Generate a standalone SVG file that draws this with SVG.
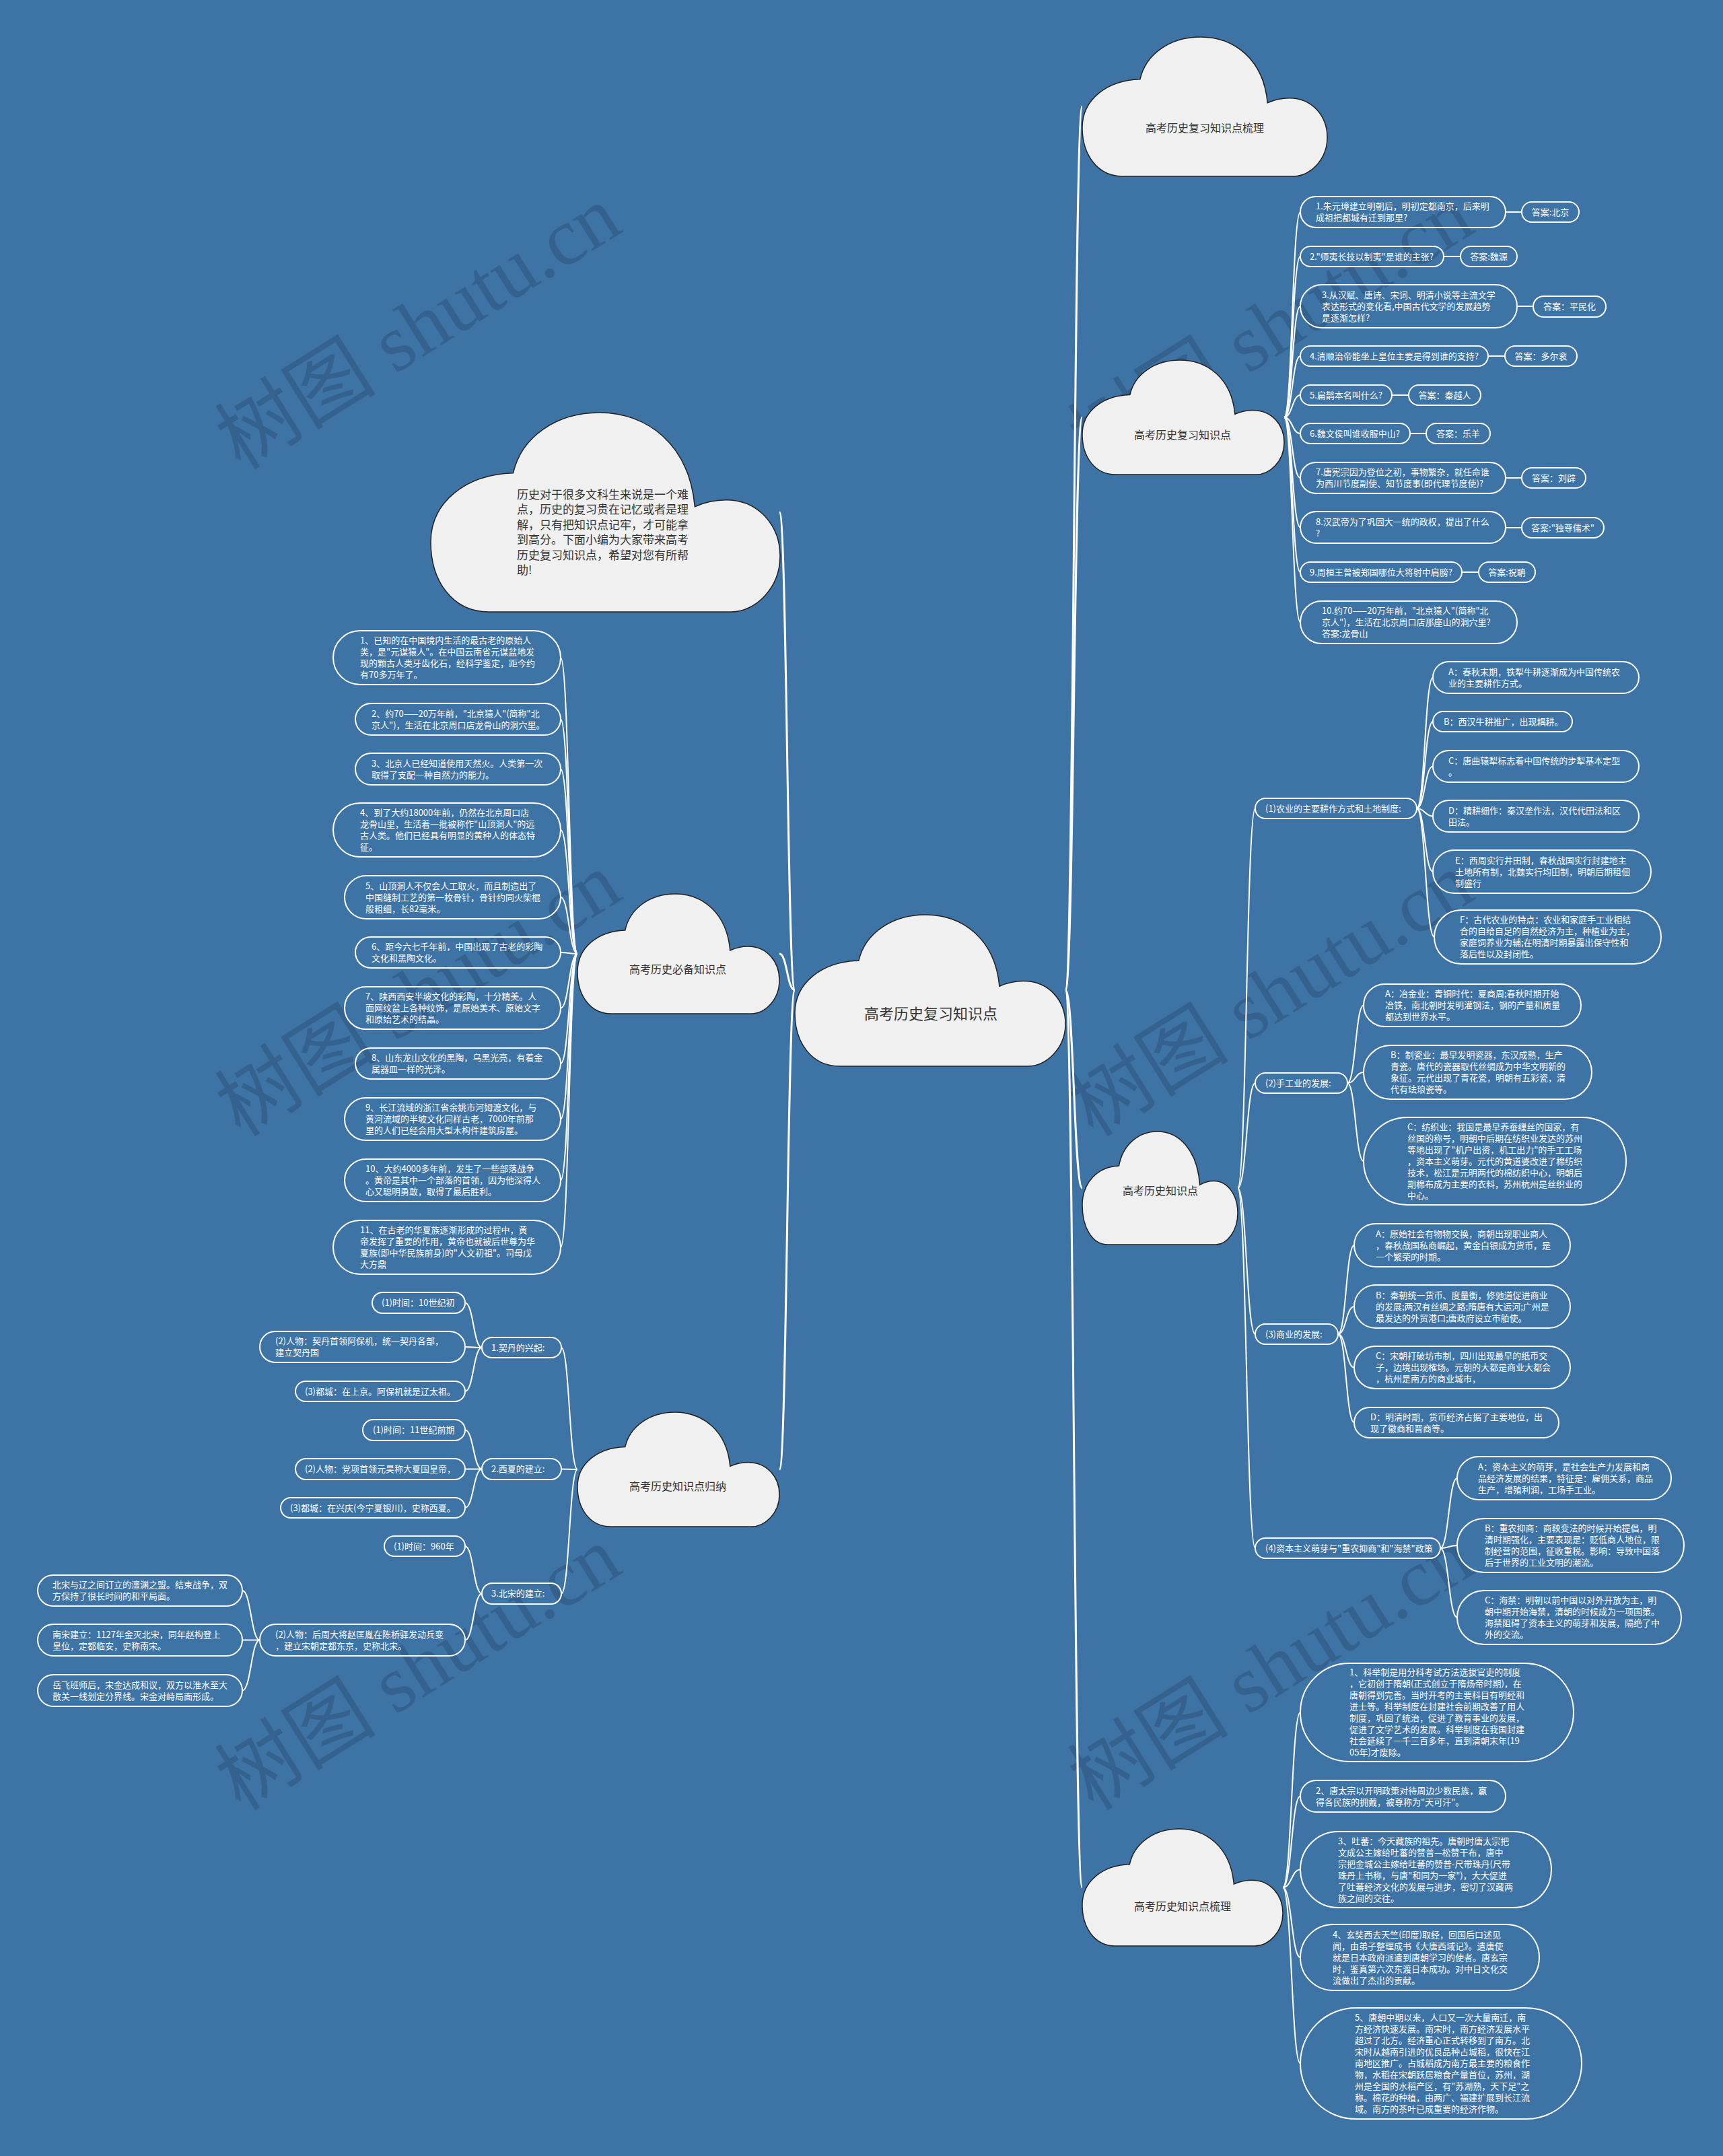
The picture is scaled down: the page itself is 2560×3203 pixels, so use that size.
<svg xmlns="http://www.w3.org/2000/svg" xmlns:xlink="http://www.w3.org/1999/xlink" width="2560" height="3203" viewBox="0 0 2560 3203">
<style>
.bg{fill:#3e73a5}
.pill{fill:none;stroke:#fff;stroke-width:2}
.t{font-family:"Noto Sans CJK SC","Noto Sans",sans-serif;font-size:13px;fill:#fff}
.ct{font-family:"Noto Sans CJK SC","Noto Sans",sans-serif;font-size:16px;fill:#333;text-anchor:middle}
.it{font-family:"Noto Sans CJK SC","Noto Sans",sans-serif;font-size:17px;fill:#333}
.cl{fill:#f0f0f0;stroke:#222;stroke-width:1.5}
.ln{fill:none;stroke:#fff;stroke-width:2}
.lm{fill:none;stroke:#fff;stroke-width:3}
.mid{text-anchor:middle}
.wm{font-family:"Liberation Serif","Noto Sans CJK SC",serif;font-size:120px;fill:#1a2f4a;opacity:0.25;text-anchor:middle}
</style>
<defs>
<path id="cloud" vector-effect="non-scaling-stroke" d="M16.6,100 C6,100 0,84 0,65 C0,45 10,31 23.6,30.3 C26,12 36,0 48.3,0 C62,0 74,16 75.6,47.2 C79,44.5 82,43.8 84.5,43.8 C94,43.8 100,57 100,72 C100,88 93,100 86,100 Z"/>
</defs>
<rect class="bg" x="0" y="0" width="2560" height="3203"/>
<g id="watermarks">
<text class="wm" transform="translate(643,521) rotate(-32)">树图 shutu.cn</text>
<text class="wm" transform="translate(643,1512) rotate(-32)">树图 shutu.cn</text>
<text class="wm" transform="translate(643,2513) rotate(-32)">树图 shutu.cn</text>
<text class="wm" transform="translate(1910,521) rotate(-32)">树图 shutu.cn</text>
<text class="wm" transform="translate(1910,1512) rotate(-32)">树图 shutu.cn</text>
<text class="wm" transform="translate(1910,2513) rotate(-32)">树图 shutu.cn</text>
</g>
<g id="connectors">
<path class="lm" d="M1583,1471 C1595.5,1471 1595.5,158 1608,158"/>
<path class="lm" d="M1583,1471 C1595.5,1471 1595.5,620 1608,620"/>
<path class="lm" d="M1583,1471 C1595.5,1471 1595.5,1765 1608,1765"/>
<path class="lm" d="M1583,1471 C1595.5,1471 1595.5,2804 1608,2804"/>
<path class="lm" d="M1181,1471 C1169.5,1471 1169.5,761 1158,761"/>
<path class="lm" d="M1181,1471 C1169.5,1471 1169.5,1417 1158,1417"/>
<path class="lm" d="M1181,1471 C1169.5,1471 1169.5,2183 1158,2183"/>
<path class="ln" d="M1908,620 C1920,620 1920,315 1932,315"/>
<path class="ln" d="M1908,620 C1920,620 1920,381 1932,381"/>
<path class="ln" d="M1908,620 C1920,620 1920,455 1932,455"/>
<path class="ln" d="M1908,620 C1920,620 1920,529 1932,529"/>
<path class="ln" d="M1908,620 C1920,620 1920,587 1932,587"/>
<path class="ln" d="M1908,620 C1920,620 1920,644 1932,644"/>
<path class="ln" d="M1908,620 C1920,620 1920,710 1932,710"/>
<path class="ln" d="M1908,620 C1920,620 1920,783.5 1932,783.5"/>
<path class="ln" d="M1908,620 C1920,620 1920,850 1932,850"/>
<path class="ln" d="M1908,620 C1920,620 1920,924.5 1932,924.5"/>
<path class="ln" d="M2237,315 L2261,315"/>
<path class="ln" d="M2145,381 L2170,381"/>
<path class="ln" d="M2254,455 L2278,455"/>
<path class="ln" d="M2211,529 L2236,529"/>
<path class="ln" d="M2068,587 L2093,587"/>
<path class="ln" d="M2095,644 L2119,644"/>
<path class="ln" d="M2237,710 L2261,710"/>
<path class="ln" d="M2237,784 L2261,784"/>
<path class="ln" d="M2172,850 L2197,850"/>
<path class="ln" d="M1839,1765 C1852,1765 1852,1201 1865,1201"/>
<path class="ln" d="M1839,1765 C1852,1765 1852,1609 1865,1609"/>
<path class="ln" d="M1839,1765 C1852,1765 1852,1982 1865,1982"/>
<path class="ln" d="M1839,1765 C1852,1765 1852,2300 1865,2300"/>
<path class="ln" d="M2105,1201 C2117,1201 2117,1006.5 2129,1006.5"/>
<path class="ln" d="M2105,1201 C2117,1201 2117,1072 2129,1072"/>
<path class="ln" d="M2105,1201 C2117,1201 2117,1138.5 2129,1138.5"/>
<path class="ln" d="M2105,1201 C2117,1201 2117,1212.5 2129,1212.5"/>
<path class="ln" d="M2105,1201 C2117,1201 2117,1295 2129,1295"/>
<path class="ln" d="M2105,1201 C2118,1201 2118,1392 2131,1392"/>
<path class="ln" d="M2002,1609 C2014,1609 2014,1493.5 2026,1493.5"/>
<path class="ln" d="M2002,1609 C2014,1609 2014,1593 2026,1593"/>
<path class="ln" d="M2002,1609 C2014,1609 2014,1725 2026,1725"/>
<path class="ln" d="M1988,1982 C2000,1982 2000,1850 2012,1850"/>
<path class="ln" d="M1988,1982 C2000,1982 2000,1941 2012,1941"/>
<path class="ln" d="M1988,1982 C2000,1982 2000,2031.5 2012,2031.5"/>
<path class="ln" d="M1988,1982 C2000,1982 2000,2113.5 2012,2113.5"/>
<path class="ln" d="M2140,2300 C2152.5,2300 2152.5,2196 2165,2196"/>
<path class="ln" d="M2140,2300 C2152.5,2300 2152.5,2296 2165,2296"/>
<path class="ln" d="M2140,2300 C2152.5,2300 2152.5,2403 2165,2403"/>
<path class="ln" d="M1906,2804 C1919,2804 1919,2544 1932,2544"/>
<path class="ln" d="M1906,2804 C1919,2804 1919,2668.5 1932,2668.5"/>
<path class="ln" d="M1906,2804 C1919,2804 1919,2777.5 1932,2777.5"/>
<path class="ln" d="M1906,2804 C1919,2804 1919,2908 1932,2908"/>
<path class="ln" d="M1906,2804 C1919,2804 1919,3065.5 1932,3065.5"/>
<path class="ln" d="M858,1417 C845.5,1417 845.5,977 833,977"/>
<path class="ln" d="M858,1417 C845.5,1417 845.5,1068.5 833,1068.5"/>
<path class="ln" d="M858,1417 C845.5,1417 845.5,1142.5 833,1142.5"/>
<path class="ln" d="M858,1417 C845.5,1417 845.5,1233 833,1233"/>
<path class="ln" d="M858,1417 C845.5,1417 845.5,1333 833,1333"/>
<path class="ln" d="M858,1417 C845.5,1417 845.5,1415 833,1415"/>
<path class="ln" d="M858,1417 C845.5,1417 845.5,1497.5 833,1497.5"/>
<path class="ln" d="M858,1417 C845.5,1417 845.5,1580 833,1580"/>
<path class="ln" d="M858,1417 C845.5,1417 845.5,1662.5 833,1662.5"/>
<path class="ln" d="M858,1417 C845.5,1417 845.5,1753.5 833,1753.5"/>
<path class="ln" d="M858,1417 C845.5,1417 845.5,1853 833,1853"/>
<path class="ln" d="M858,2183 C846,2183 846,2002 834,2002"/>
<path class="ln" d="M858,2183 C846,2183 846,2182.5 834,2182.5"/>
<path class="ln" d="M858,2183 C846,2183 846,2367.5 834,2367.5"/>
<path class="ln" d="M716,2002 C703.5,2002 703.5,1935.5 691,1935.5"/>
<path class="ln" d="M716,2002 C703.5,2002 703.5,2001 691,2001"/>
<path class="ln" d="M716,2002 C703.5,2002 703.5,2067 691,2067"/>
<path class="ln" d="M716,2182.5 C703.5,2182.5 703.5,2124.5 691,2124.5"/>
<path class="ln" d="M716,2182.5 C703.5,2182.5 703.5,2182.5 691,2182.5"/>
<path class="ln" d="M716,2182.5 C703.5,2182.5 703.5,2240 691,2240"/>
<path class="ln" d="M716,2367.5 C703.5,2367.5 703.5,2297 691,2297"/>
<path class="ln" d="M716,2367.5 C703.5,2367.5 703.5,2436.5 691,2436.5"/>
<path class="ln" d="M386,2436.5 C373,2436.5 373,2363 360,2363"/>
<path class="ln" d="M386,2436.5 C373,2436.5 373,2436.5 360,2436.5"/>
<path class="ln" d="M386,2436.5 C373,2436.5 373,2511.5 360,2511.5"/>
</g>
<g id="center">
<use href="#cloud" class="cl" transform="translate(1181,1359) scale(4.02,2.25)"/>
<text class="ct" x="1383" y="1514" style="font-size:22px">高考历史复习知识点</text>
</g>
<g id="cloud-shuli">
<use href="#cloud" class="cl" transform="translate(1608,55) scale(3.64,2.07)"/>
<text class="ct" x="1790" y="196">高考历史复习知识点梳理</text>
</g>
<g id="cloud-questions">
<use href="#cloud" class="cl" transform="translate(1608,535) scale(3.0,1.7)"/>
<text class="ct" x="1757" y="652">高考历史复习知识点</text>
</g>
<g id="cloud-zhishi">
<use href="#cloud" class="cl" transform="translate(1608,1681) scale(2.31,1.68)"/>
<text class="ct" x="1724" y="1775">高考历史知识点</text>
</g>
<g id="cloud-zhishi-shuli">
<use href="#cloud" class="cl" transform="translate(1608,2717) scale(2.98,1.74)"/>
<text class="ct" x="1757" y="2838">高考历史知识点梳理</text>
</g>
<g id="cloud-intro">
<use href="#cloud" class="cl" transform="translate(640,613) scale(5.19,2.96)"/>
<text class="it" x="768" y="741">历史对于很多文科生来说是一个难<tspan x="768" dy="22.4">点，历史的复习贵在记忆或者是理</tspan><tspan x="768" dy="22.4">解，只有把知识点记牢，才可能拿</tspan><tspan x="768" dy="22.4">到高分。下面小编为大家带来高考</tspan><tspan x="768" dy="22.4">历史复习知识点，希望对您有所帮</tspan><tspan x="768" dy="22.4">助!</tspan></text>
</g>
<g id="cloud-bibei">
<use href="#cloud" class="cl" transform="translate(858,1328) scale(3.0,1.78)"/>
<text class="ct" x="1007" y="1446">高考历史必备知识点</text>
</g>
<g id="cloud-guina">
<use href="#cloud" class="cl" transform="translate(858,2098) scale(3.0,1.7)"/>
<text class="ct" x="1007" y="2214">高考历史知识点归纳</text>
</g>
<g id="q1"><rect class="pill" x="1932" y="292" width="305" height="46" rx="23"/><text class="t" x="1955" y="311">1.朱元璋建立明朝后，明初定都南京，后来明<tspan x="1955" dy="17">成祖把都城有迁到那里?</tspan></text></g>
<g id="a1"><rect class="pill" x="2261" y="300" width="85" height="30" rx="15"/><text class="t mid" x="2303.5" y="319.5">答案:北京</text></g>
<g id="q2"><rect class="pill" x="1932" y="366" width="213" height="30" rx="15"/><text class="t" x="1946" y="385.5">2."师夷长技以制夷"是谁的主张?</text></g>
<g id="a2"><rect class="pill" x="2170" y="366" width="84" height="30" rx="15"/><text class="t mid" x="2212" y="385.5">答案:魏源</text></g>
<g id="q3"><rect class="pill" x="1932" y="423" width="322" height="64" rx="32"/><text class="t" x="1964" y="442.5">3.从汉赋、唐诗、宋词、明清小说等主流文学<tspan x="1964" dy="17">表达形式的变化看,中国古代文学的发展趋势</tspan><tspan x="1964" dy="17">是逐渐怎样?</tspan></text></g>
<g id="a3"><rect class="pill" x="2278" y="440" width="108" height="31" rx="15.5"/><text class="t mid" x="2332" y="460">答案：平民化</text></g>
<g id="q4"><rect class="pill" x="1932" y="514" width="279" height="30" rx="15"/><text class="t" x="1946" y="533.5">4.清顺治帝能坐上皇位主要是得到谁的支持?</text></g>
<g id="a4"><rect class="pill" x="2236" y="514" width="107" height="30" rx="15"/><text class="t mid" x="2289.5" y="533.5">答案：多尔衮</text></g>
<g id="q5"><rect class="pill" x="1932" y="572" width="136" height="30" rx="15"/><text class="t" x="1946" y="591.5">5.扁鹊本名叫什么?</text></g>
<g id="a5"><rect class="pill" x="2093" y="572" width="107" height="30" rx="15"/><text class="t mid" x="2146.5" y="591.5">答案：秦越人</text></g>
<g id="q6"><rect class="pill" x="1932" y="629" width="163" height="30" rx="15"/><text class="t" x="1946" y="648.5">6.魏文侯叫谁收服中山?</text></g>
<g id="a6"><rect class="pill" x="2119" y="629" width="95" height="30" rx="15"/><text class="t mid" x="2166.5" y="648.5">答案：乐羊</text></g>
<g id="q7"><rect class="pill" x="1932" y="687" width="305" height="46" rx="23"/><text class="t" x="1955" y="706">7.唐宪宗因为登位之初，事物繁杂，就任命谁<tspan x="1955" dy="17">为西川节度副使、知节度事(即代理节度使)?</tspan></text></g>
<g id="a7"><rect class="pill" x="2261" y="695" width="95" height="30" rx="15"/><text class="t mid" x="2308.5" y="714.5">答案：刘辟</text></g>
<g id="q8"><rect class="pill" x="1932" y="760" width="305" height="47" rx="23.5"/><text class="t" x="1955" y="779.5">8.汉武帝为了巩固大一统的政权，提出了什么<tspan x="1955" dy="17">?</tspan></text></g>
<g id="a8"><rect class="pill" x="2261" y="769" width="122" height="30" rx="15"/><text class="t mid" x="2322" y="788.5">答案:"独尊儒术"</text></g>
<g id="q9"><rect class="pill" x="1932" y="835" width="240" height="30" rx="15"/><text class="t" x="1946" y="854.5">9.周桓王曾被郑国哪位大将射中肩膀?</text></g>
<g id="a9"><rect class="pill" x="2197" y="835" width="84" height="30" rx="15"/><text class="t mid" x="2239" y="854.5">答案:祝聃</text></g>
<g id="q10"><rect class="pill" x="1932" y="893" width="322" height="63" rx="31.5"/><text class="t" x="1964" y="912">10.约70——20万年前，"北京猿人"(简称"北<tspan x="1964" dy="17">京人")，生活在北京周口店那座山的洞穴里?</tspan><tspan x="1964" dy="17">答案:龙骨山</tspan></text></g>
<g id="k1"><rect class="pill" x="1865" y="1186" width="240" height="30" rx="15"/><text class="t" x="1880" y="1205.5">(1)农业的主要耕作方式和土地制度:</text></g>
<g id="k1a"><rect class="pill" x="2129" y="983" width="306" height="47" rx="23.5"/><text class="t" x="2152" y="1002.5">A：春秋末期，铁犁牛耕逐渐成为中国传统农<tspan x="2152" dy="17">业的主要耕作方式。</tspan></text></g>
<g id="k1b"><rect class="pill" x="2129" y="1057" width="207" height="30" rx="15"/><text class="t" x="2145" y="1076.5">B：西汉牛耕推广，出现耦耕。</text></g>
<g id="k1c"><rect class="pill" x="2129" y="1115" width="306" height="47" rx="23.5"/><text class="t" x="2152" y="1134.5">C：唐曲辕犁标志着中国传统的步犁基本定型<tspan x="2152" dy="17">。</tspan></text></g>
<g id="k1d"><rect class="pill" x="2129" y="1189" width="306" height="47" rx="23.5"/><text class="t" x="2152" y="1208.5">D：精耕细作：秦汉垄作法，汉代代田法和区<tspan x="2152" dy="17">田法。</tspan></text></g>
<g id="k1e"><rect class="pill" x="2129" y="1263" width="324" height="64" rx="32"/><text class="t" x="2162" y="1282.5">E：西周实行井田制，春秋战国实行封建地主<tspan x="2162" dy="17">土地所有制，北魏实行均田制，明朝后期租佃</tspan><tspan x="2162" dy="17">制盛行</tspan></text></g>
<g id="k1f"><rect class="pill" x="2131" y="1352" width="337" height="80" rx="40"/><text class="t" x="2169" y="1371">F：古代农业的特点：农业和家庭手工业相结<tspan x="2169" dy="17">合的自给自足的自然经济为主，种植业为主，</tspan><tspan x="2169" dy="17">家庭饲养业为辅;在明清时期暴露出保守性和</tspan><tspan x="2169" dy="17">落后性以及封闭性。</tspan></text></g>
<g id="k2"><rect class="pill" x="1865" y="1594" width="137" height="30" rx="15"/><text class="t" x="1880" y="1613.5">(2)手工业的发展:</text></g>
<g id="k2a"><rect class="pill" x="2026" y="1462" width="323" height="63" rx="31.5"/><text class="t" x="2058" y="1481">A：冶金业：青铜时代：夏商周;春秋时期开始<tspan x="2058" dy="17">冶铁，南北朝时发明灌钢法，钢的产量和质量</tspan><tspan x="2058" dy="17">都达到世界水平。</tspan></text></g>
<g id="k2b"><rect class="pill" x="2026" y="1553" width="339" height="80" rx="40"/><text class="t" x="2066" y="1572">B：制瓷业：最早发明瓷器，东汉成熟，生产<tspan x="2066" dy="17">青瓷。唐代的瓷器取代丝绸成为中华文明新的</tspan><tspan x="2066" dy="17">象征。元代出现了青花瓷，明朝有五彩瓷，清</tspan><tspan x="2066" dy="17">代有珐琅瓷等。</tspan></text></g>
<g id="k2c"><rect class="pill" x="2026" y="1660" width="390" height="130" rx="65"/><text class="t" x="2091" y="1678.5">C：纺织业：我国是最早养蚕缫丝的国家，有<tspan x="2091" dy="17">丝国的称号，明朝中后期在纺织业发达的苏州</tspan><tspan x="2091" dy="17">等地出现了"机户出资，机工出力"的手工工场</tspan><tspan x="2091" dy="17">，资本主义萌芽。元代的黄道婆改进了棉纺织</tspan><tspan x="2091" dy="17">技术，松江是元明两代的棉纺织中心，明朝后</tspan><tspan x="2091" dy="17">期棉布成为主要的衣料，苏州杭州是丝织业的</tspan><tspan x="2091" dy="17">中心。</tspan></text></g>
<g id="k3"><rect class="pill" x="1865" y="1967" width="123" height="30" rx="15"/><text class="t" x="1880" y="1986.5">(3)商业的发展:</text></g>
<g id="k3a"><rect class="pill" x="2012" y="1818" width="321" height="64" rx="32"/><text class="t" x="2044" y="1837.5">A：原始社会有物物交换，商朝出现职业商人<tspan x="2044" dy="17">，春秋战国私商崛起，黄金白银成为货币，是</tspan><tspan x="2044" dy="17">一个繁荣的时期。</tspan></text></g>
<g id="k3b"><rect class="pill" x="2012" y="1909" width="321" height="64" rx="32"/><text class="t" x="2044" y="1928.5">B：秦朝统一货币、度量衡，修驰道促进商业<tspan x="2044" dy="17">的发展;两汉有丝绸之路;隋唐有大运河;广州是</tspan><tspan x="2044" dy="17">最发达的外贸港口;唐政府设立市舶使。</tspan></text></g>
<g id="k3c"><rect class="pill" x="2012" y="2000" width="321" height="63" rx="31.5"/><text class="t" x="2044" y="2019">C：宋朝打破坊市制，四川出现最早的纸币交<tspan x="2044" dy="17">子，边境出现榷场。元朝的大都是商业大都会</tspan><tspan x="2044" dy="17">，杭州是南方的商业城市，</tspan></text></g>
<g id="k3d"><rect class="pill" x="2012" y="2091" width="304" height="45" rx="22.5"/><text class="t" x="2036" y="2109.5">D：明清时期，货币经济占据了主要地位，出<tspan x="2036" dy="17">现了徽商和晋商等。</tspan></text></g>
<g id="k4"><rect class="pill" x="1865" y="2285" width="275" height="30" rx="15"/><text class="t" x="1880" y="2304.5">(4)资本主义萌芽与"重农抑商"和"海禁"政策</text></g>
<g id="k4a"><rect class="pill" x="2165" y="2164" width="318" height="64" rx="32"/><text class="t" x="2196" y="2183.5">A：资本主义的萌芽，是社会生产力发展和商<tspan x="2196" dy="17">品经济发展的结果，特征是：雇佣关系，商品</tspan><tspan x="2196" dy="17">生产，增殖利润，工场手工业。</tspan></text></g>
<g id="k4b"><rect class="pill" x="2165" y="2256" width="337" height="80" rx="40"/><text class="t" x="2206" y="2275">B：重农抑商：商鞅变法的时候开始提倡，明<tspan x="2206" dy="17">清时期强化，主要表现是：贬低商人地位，限</tspan><tspan x="2206" dy="17">制经营的范围，征收重税。影响：导致中国落</tspan><tspan x="2206" dy="17">后于世界的工业文明的潮流。</tspan></text></g>
<g id="k4c"><rect class="pill" x="2165" y="2363" width="333" height="80" rx="40"/><text class="t" x="2206" y="2382">C：海禁：明朝以前中国以对外开放为主，明<tspan x="2206" dy="17">朝中期开始海禁，清朝的时候成为一项国策。</tspan><tspan x="2206" dy="17">海禁阻碍了资本主义的萌芽和发展，隔绝了中</tspan><tspan x="2206" dy="17">外的交流。</tspan></text></g>
<g id="s1"><rect class="pill" x="1932" y="2471" width="406" height="146" rx="73"/><text class="t" x="2005" y="2489">1、科举制是用分科考试方法选拔官吏的制度<tspan x="2005" dy="17">，它初创于隋朝(正式创立于隋炀帝时期)，在</tspan><tspan x="2005" dy="17">唐朝得到完善。当时开考的主要科目有明经和</tspan><tspan x="2005" dy="17">进士等。科举制度在封建社会前期改善了用人</tspan><tspan x="2005" dy="17">制度，巩固了统治，促进了教育事业的发展，</tspan><tspan x="2005" dy="17">促进了文学艺术的发展。科举制度在我国封建</tspan><tspan x="2005" dy="17">社会延续了一千三百多年，直到清朝末年(19</tspan><tspan x="2005" dy="17">05年)才废除。</tspan></text></g>
<g id="s2"><rect class="pill" x="1932" y="2645" width="305" height="47" rx="23.5"/><text class="t" x="1955" y="2664.5">2、唐太宗以开明政策对待周边少数民族，赢<tspan x="1955" dy="17">得各民族的拥戴，被尊称为"天可汗"。</tspan></text></g>
<g id="s3"><rect class="pill" x="1932" y="2721" width="373" height="113" rx="56.5"/><text class="t" x="1988" y="2739.5">3、吐蕃：今天藏族的祖先。唐朝时唐太宗把<tspan x="1988" dy="17">文成公主嫁给吐蕃的赞普—松赞干布，唐中</tspan><tspan x="1988" dy="17">宗把金城公主嫁给吐蕃的赞普-尺带珠丹(尺带</tspan><tspan x="1988" dy="17">珠丹上书称，与唐"和同为一家")，大大促进</tspan><tspan x="1988" dy="17">了吐蕃经济文化的发展与进步，密切了汉藏两</tspan><tspan x="1988" dy="17">族之间的交往。</tspan></text></g>
<g id="s4"><rect class="pill" x="1932" y="2859" width="355" height="98" rx="49"/><text class="t" x="1980" y="2878.5">4、玄奘西去天竺(印度)取经，回国后口述见<tspan x="1980" dy="17">闻，由弟子整理成书《大唐西域记》。遣唐使</tspan><tspan x="1980" dy="17">就是日本政府派遣到唐朝学习的使者。唐玄宗</tspan><tspan x="1980" dy="17">时，鉴真第六次东渡日本成功。对中日文化交</tspan><tspan x="1980" dy="17">流做出了杰出的贡献。</tspan></text></g>
<g id="s5"><rect class="pill" x="1932" y="2983" width="418" height="165" rx="82.5"/><text class="t" x="2013" y="3002">5、唐朝中期以来，人口又一次大量南迁，南<tspan x="2013" dy="17">方经济快速发展。南宋时，南方经济发展水平</tspan><tspan x="2013" dy="17">超过了北方。经济重心正式转移到了南方。北</tspan><tspan x="2013" dy="17">宋时从越南引进的优良品种占城稻，很快在江</tspan><tspan x="2013" dy="17">南地区推广。占城稻成为南方最主要的粮食作</tspan><tspan x="2013" dy="17">物，水稻在宋朝跃居粮食产量首位，苏州，湖</tspan><tspan x="2013" dy="17">州是全国的水稻产区，有"苏湖熟，天下足"之</tspan><tspan x="2013" dy="17">称。棉花的种植，由两广、福建扩展到长江流</tspan><tspan x="2013" dy="17">域。南方的茶叶已成重要的经济作物。</tspan></text></g>
<g id="b1"><rect class="pill" x="495" y="937" width="338" height="80" rx="40"/><text class="t" x="535" y="956">1、已知的在中国境内生活的最古老的原始人<tspan x="535" dy="17">类，是"元谋猿人"。在中国云南省元谋盆地发</tspan><tspan x="535" dy="17">现的颗古人类牙齿化石，经科学鉴定，距今约</tspan><tspan x="535" dy="17">有70多万年了。</tspan></text></g>
<g id="b2"><rect class="pill" x="528" y="1045" width="305" height="47" rx="23.5"/><text class="t" x="552" y="1064.5">2、约70——20万年前，"北京猿人"(简称"北<tspan x="552" dy="17">京人")，生活在北京周口店龙骨山的洞穴里。</tspan></text></g>
<g id="b3"><rect class="pill" x="528" y="1119" width="305" height="47" rx="23.5"/><text class="t" x="552" y="1138.5">3、北京人已经知道使用天然火。人类第一次<tspan x="552" dy="17">取得了支配一种自然力的能力。</tspan></text></g>
<g id="b4"><rect class="pill" x="495" y="1193" width="338" height="80" rx="40"/><text class="t" x="535" y="1212">4、到了大约18000年前，仍然在北京周口店<tspan x="535" dy="17">龙骨山里，生活着一批被称作"山顶洞人"的远</tspan><tspan x="535" dy="17">古人类。他们已经具有明显的黄种人的体态特</tspan><tspan x="535" dy="17">征。</tspan></text></g>
<g id="b5"><rect class="pill" x="512" y="1301" width="321" height="64" rx="32"/><text class="t" x="543" y="1320.5">5、山顶洞人不仅会人工取火，而且制造出了<tspan x="543" dy="17">中国缝制工艺的第一枚骨针，骨针约同火柴棍</tspan><tspan x="543" dy="17">般粗细，长82毫米。</tspan></text></g>
<g id="b6"><rect class="pill" x="528" y="1392" width="305" height="46" rx="23"/><text class="t" x="552" y="1411">6、距今六七千年前，中国出现了古老的彩陶<tspan x="552" dy="17">文化和黑陶文化。</tspan></text></g>
<g id="b7"><rect class="pill" x="512" y="1466" width="321" height="63" rx="31.5"/><text class="t" x="543" y="1485">7、陕西西安半坡文化的彩陶，十分精美。人<tspan x="543" dy="17">面网纹盆上各种纹饰，是原始美术、原始文字</tspan><tspan x="543" dy="17">和原始艺术的结晶。</tspan></text></g>
<g id="b8"><rect class="pill" x="528" y="1557" width="305" height="46" rx="23"/><text class="t" x="552" y="1576">8、山东龙山文化的黑陶，乌黑光亮，有着金<tspan x="552" dy="17">属器皿一样的光泽。</tspan></text></g>
<g id="b9"><rect class="pill" x="512" y="1631" width="321" height="63" rx="31.5"/><text class="t" x="543" y="1650">9、长江流域的浙江省余姚市河姆渡文化，与<tspan x="543" dy="17">黄河流域的半坡文化同样古老，7000年前那</tspan><tspan x="543" dy="17">里的人们已经会用大型木构件建筑房屋。</tspan></text></g>
<g id="b10"><rect class="pill" x="512" y="1722" width="321" height="63" rx="31.5"/><text class="t" x="543" y="1741">10、大约4000多年前，发生了一些部落战争<tspan x="543" dy="17">。黄帝是其中一个部落的首领，因为他深得人</tspan><tspan x="543" dy="17">心又聪明勇敢，取得了最后胜利。</tspan></text></g>
<g id="b11"><rect class="pill" x="495" y="1813" width="338" height="80" rx="40"/><text class="t" x="535" y="1832">11、在古老的华夏族逐渐形成的过程中，黄<tspan x="535" dy="17">帝发挥了重要的作用，黄帝也就被后世尊为华</tspan><tspan x="535" dy="17">夏族(即中华民族前身)的"人文初祖"。司母戊</tspan><tspan x="535" dy="17">大方鼎</tspan></text></g>
<g id="g1"><rect class="pill" x="716" y="1987" width="118" height="30" rx="15"/><text class="t" x="730" y="2006.5">1.契丹的兴起:</text></g>
<g id="g1a"><rect class="pill" x="553" y="1920" width="138" height="31" rx="15.5"/><text class="t" x="567" y="1940">(1)时间：10世纪初</text></g>
<g id="g1b"><rect class="pill" x="386" y="1978" width="305" height="46" rx="23"/><text class="t" x="409" y="1997">(2)人物：契丹首领阿保机，统一契丹各部，<tspan x="409" dy="17">建立契丹国</tspan></text></g>
<g id="g1c"><rect class="pill" x="439" y="2052" width="252" height="30" rx="15"/><text class="t" x="453" y="2071.5">(3)都城：在上京。阿保机就是辽太祖。</text></g>
<g id="g2"><rect class="pill" x="716" y="2167" width="118" height="31" rx="15.5"/><text class="t" x="730" y="2187">2.西夏的建立:</text></g>
<g id="g2a"><rect class="pill" x="539" y="2109" width="152" height="31" rx="15.5"/><text class="t" x="554" y="2129">(1)时间：11世纪前期</text></g>
<g id="g2b"><rect class="pill" x="439" y="2167" width="252" height="31" rx="15.5"/><text class="t" x="453" y="2187">(2)人物：党项首领元昊称大夏国皇帝，</text></g>
<g id="g2c"><rect class="pill" x="417" y="2225" width="274" height="30" rx="15"/><text class="t" x="431" y="2244.5">(3)都城：在兴庆(今宁夏银川)，史称西夏。</text></g>
<g id="g3"><rect class="pill" x="716" y="2352" width="118" height="31" rx="15.5"/><text class="t" x="730" y="2372">3.北宋的建立:</text></g>
<g id="g3a"><rect class="pill" x="571" y="2282" width="120" height="30" rx="15"/><text class="t" x="585" y="2301.5">(1)时间：960年</text></g>
<g id="g3b"><rect class="pill" x="386" y="2413" width="305" height="47" rx="23.5"/><text class="t" x="409" y="2432.5">(2)人物：后周大将赵匡胤在陈桥驿发动兵变<tspan x="409" dy="17">，建立宋朝定都东京，史称北宋。</tspan></text></g>
<g id="g3b1"><rect class="pill" x="56" y="2340" width="304" height="46" rx="23"/><text class="t" x="78" y="2359">北宋与辽之间订立的澶渊之盟。结束战争，双<tspan x="78" dy="17">方保持了很长时间的和平局面。</tspan></text></g>
<g id="g3b2"><rect class="pill" x="56" y="2413" width="304" height="47" rx="23.5"/><text class="t" x="78" y="2432.5">南宋建立：1127年金灭北宋，同年赵构登上<tspan x="78" dy="17">皇位，定都临安，史称南宋。</tspan></text></g>
<g id="g3b3"><rect class="pill" x="56" y="2488" width="304" height="47" rx="23.5"/><text class="t" x="78" y="2507.5">岳飞班师后，宋金达成和议，双方以淮水至大<tspan x="78" dy="17">散关一线划定分界线。宋金对峙局面形成。</tspan></text></g>
</svg>
